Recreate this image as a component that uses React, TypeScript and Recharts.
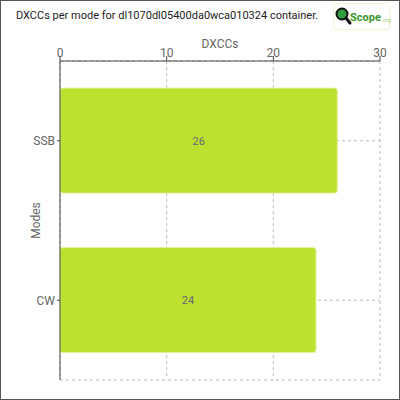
import { BarChart, Bar, XAxis, YAxis, CartesianGrid, LabelList } from 'recharts';

const modes = ['SSB', 'CW'];
const dxccs = [26, 24];
const xTicks = [0, 10, 20, 30];

const data = modes.map((mode, i) => ({ mode, dxccs: dxccs[i] }));

const font = 'Roboto, "Noto Sans", sans-serif';

export default function App() {
  return (
    <div
      style={{
        position: 'absolute',
        left: 0,
        top: 0,
        width: 400,
        height: 400,
        background: '#fff',
        fontFamily: font,
      }}
    >
      <BarChart
        width={400}
        height={400}
        data={data}
        layout="vertical"
        margin={{ top: 30, right: 20, bottom: 20, left: 10 }}
        barCategoryGap="17%"
      >
        <CartesianGrid stroke="#bbb" strokeDasharray="3 3" />
        <XAxis
          type="number"
          orientation="top"
          domain={[0, 30]}
          ticks={xTicks}
          height={31}
          tickSize={5}
          tickMargin={-1}
          axisLine={{ stroke: '#444' }}
          tickLine={{ stroke: '#444' }}
          tick={{ fill: '#666', fontSize: 12, fontFamily: font }}
          label={{ value: 'DXCCs', position: 'insideTop', offset: 9, fill: '#666', fontSize: 12, fontFamily: font }}
        />
        <YAxis
          type="category"
          dataKey="mode"
          width={50}
          tickSize={3}
          axisLine={{ stroke: '#444' }}
          tickLine={{ stroke: '#444' }}
          tick={{ fill: '#666', fontSize: 12, fontFamily: font }}
          label={{
            value: 'Modes',
            angle: -90,
            position: 'insideLeft',
            offset: 26,
            fill: '#666',
            fontSize: 12,
            fontFamily: font,
            style: { textAnchor: 'middle' },
          }}
        />
        <Bar dataKey="dxccs" fill="#bde12f" stroke="#e2f29a" strokeWidth={1} radius={3} isAnimationActive={false}>
          <LabelList dataKey="dxccs" position="center" fill="#667" fontSize={11} fontFamily={font} />
        </Bar>
      </BarChart>
      <div
        style={{
          position: 'absolute',
          left: 16,
          top: 9,
          fontSize: 11,
          color: '#222',
          whiteSpace: 'nowrap',
        }}
      >
        DXCCs per mode for dl1070dl05400da0wca010324 container.
      </div>
      <div
        style={{
          position: 'absolute',
          left: 333,
          top: 3,
          width: 57,
          height: 27,
          border: '1px solid #eef5d0',
          borderRadius: 4,
          boxSizing: 'border-box',
        }}
      >
        <svg width={57} height={27} style={{ display: 'block' }}>
          <circle cx={8} cy={10} r={5.5} fill="#2e9e3e" stroke="#111" strokeWidth={2} />
          <line x1={12} y1={14} x2={16} y2={19} stroke="#111" strokeWidth={3} strokeLinecap="round" />
          <text x={16} y={17} fill="#3a9a2a" fontSize={11} fontWeight="bold" fontFamily={font}>
            Scope
            <tspan fill="#9cd070" fontSize={6} fontWeight="normal" dy={1}>
              .org
            </tspan>
          </text>
        </svg>
      </div>
      <div
        style={{
          position: 'absolute',
          left: 0,
          top: 0,
          width: 400,
          height: 400,
          border: '1px solid #555',
          boxSizing: 'border-box',
          pointerEvents: 'none',
        }}
      />
    </div>
  );
}
